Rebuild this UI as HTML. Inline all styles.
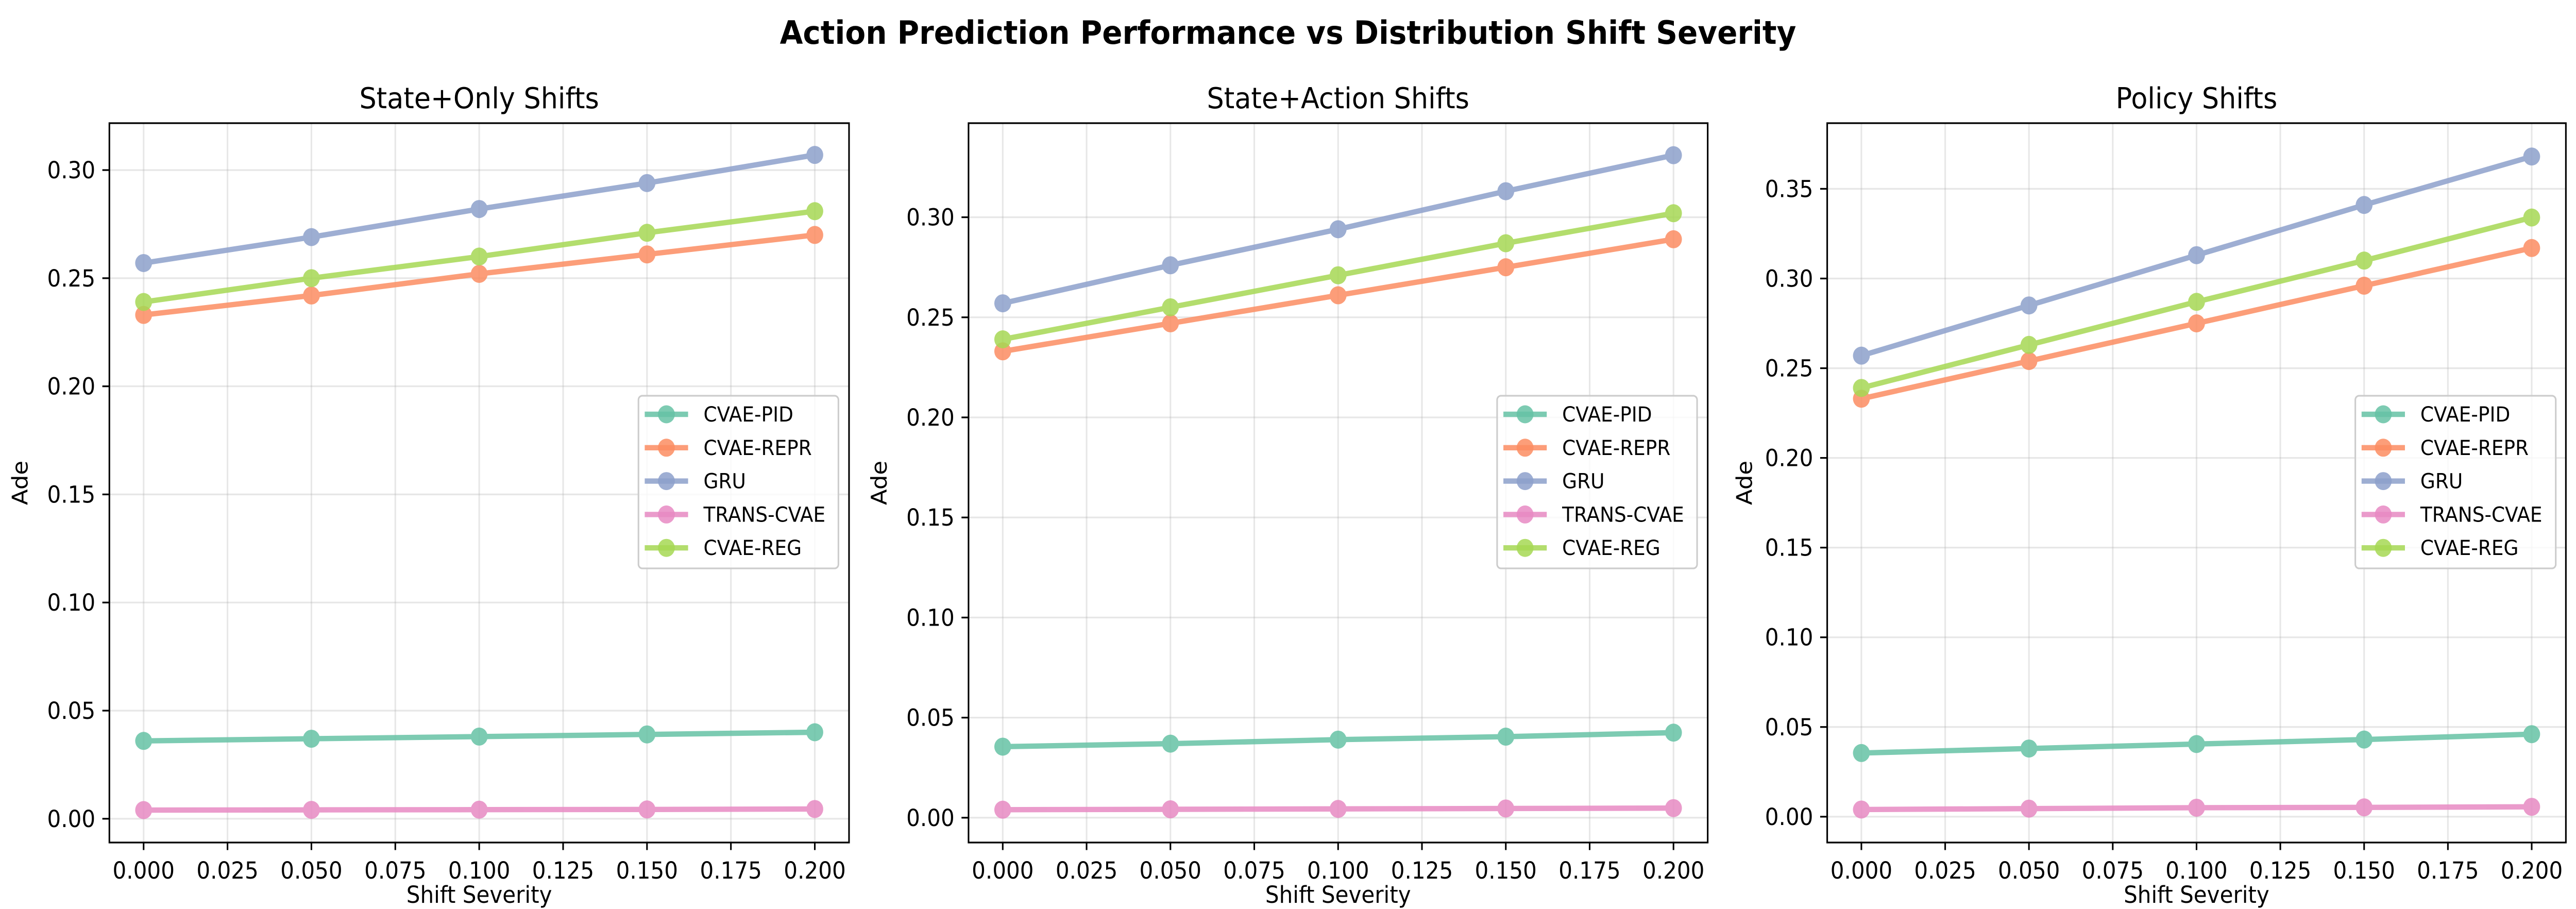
<!DOCTYPE html>
<html><head><meta charset="utf-8">
<meta name="viewport" content="width=5346">
<style>
html,body{margin:0;padding:0;background:#fff;width:100%;height:100%;overflow:hidden;}
svg{display:block;width:100vw;height:100vh;font-family:"DejaVu Sans","Liberation Sans",sans-serif;}
</style></head>
<body>
<svg id="fig" viewBox="0 0 5346 1764" preserveAspectRatio="none" xmlns="http://www.w3.org/2000/svg">
<rect width="5346" height="1764" fill="#fff"/>
<text x="2673" y="85" text-anchor="middle" font-size="62" font-weight="bold">Action Prediction Performance vs Distribution Shift Severity</text>
</svg>
<script>
const xValues = [0, 0.05, 0.1, 0.15, 0.2];
const xTickLabels = ["0.000","0.025","0.050","0.075","0.100","0.125","0.150","0.175","0.200"];
const seriesNames = ["CVAE-PID","CVAE-REPR","GRU","TRANS-CVAE","CVAE-REG"];
const seriesColors = ["#66c2a5","#fc8d62","#8da0cb","#e78ac3","#a6d854"];
const panelTitles = ["State+Only Shifts","State+Action Shifts","Policy Shifts"];
const p1PID = [0.036,0.037,0.038,0.039,0.040];
const p1REPR = [0.233,0.242,0.252,0.261,0.270];
const p1GRU = [0.257,0.269,0.282,0.294,0.307];
const p1TRANS = [0.004,0.0041,0.0042,0.0043,0.0045];
const p1REG = [0.239,0.250,0.260,0.271,0.281];
const p2PID = [0.0355,0.037,0.039,0.0405,0.0425];
const p2REPR = [0.233,0.247,0.261,0.275,0.289];
const p2GRU = [0.257,0.276,0.294,0.313,0.331];
const p2TRANS = [0.004,0.0042,0.0044,0.0046,0.0048];
const p2REG = [0.239,0.255,0.271,0.287,0.302];
const p3PID = [0.0355,0.038,0.0405,0.043,0.046];
const p3REPR = [0.233,0.254,0.275,0.296,0.317];
const p3GRU = [0.257,0.285,0.313,0.341,0.368];
const p3TRANS = [0.004,0.0045,0.005,0.0052,0.0055];
const p3REG = [0.239,0.263,0.287,0.310,0.334];
const p1YTicks = [0,0.05,0.10,0.15,0.20,0.25,0.30];
const p2YTicks = [0,0.05,0.10,0.15,0.20,0.25,0.30];
const p3YTicks = [0,0.05,0.10,0.15,0.20,0.25,0.30,0.35];

const panels = [
 {L:227,R:1762,ymin:-0.011,ymax:0.3217,ticks:p1YTicks,data:[p1PID,p1REPR,p1GRU,p1TRANS,p1REG],legL:1325,legR:1740},
 {L:2010,R:3544,ymin:-0.0124,ymax:0.347,ticks:p2YTicks,data:[p2PID,p2REPR,p2GRU,p2TRANS,p2REG],legL:3107,legR:3522},
 {L:3792,R:5325,ymin:-0.0144,ymax:0.3866,ticks:p3YTicks,data:[p3PID,p3REPR,p3GRU,p3TRANS,p3REG],legL:4888,legR:5304}
];
const T=239,B=1635,NS="http://www.w3.org/2000/svg";
const FT=45, FTITLE=56, FLEG=40;
const svg=document.getElementById('fig');
function mk(tag,attrs,parent,text){const e=document.createElementNS(NS,tag);for(const k in attrs)e.setAttribute(k,attrs[k]);if(text!==undefined)e.textContent=text;parent.appendChild(e);return e;}
panels.forEach((p,pi)=>{
 const g=mk('g',{},svg);
 
 
 const xmin=-0.0102,xmax=0.2102;
 const sx=v=>p.L+(v-xmin)/(xmax-xmin)*(p.R-p.L);
 const sy=v=>B-(v-p.ymin)/(p.ymax-p.ymin)*(B-T);
 xTickLabels.forEach(l=>{const v=parseFloat(l),x=sx(v);
  mk('line',{x1:x,x2:x,y1:T,y2:B,stroke:'#b0b0b0','stroke-opacity':0.3,'stroke-width':3.3},g);
  mk('line',{x1:x,x2:x,y1:B,y2:B+14.6,stroke:'#000','stroke-width':3.3},g);
  const t=mk('text',{x:x,y:1705,'text-anchor':'middle','font-size':FT},g,l);
  
  
 });
 p.ticks.forEach(v=>{const y=sy(v);
  mk('line',{x1:p.L,x2:p.R,y1:y,y2:y,stroke:'#b0b0b0','stroke-opacity':0.3,'stroke-width':3.3},g);
  mk('line',{x1:p.L-14.6,x2:p.L,y1:y,y2:y,stroke:'#000','stroke-width':3.3},g);
  const t=mk('text',{x:p.L-29,y:y+16,'text-anchor':'end','font-size':FT},g,v.toFixed(2));
  
  
 });
 p.data.forEach((arr,si)=>{
  const s=mk('g',{opacity:0.85},g);
  
  
  mk('polyline',{points:arr.map((v,i)=>sx(xValues[i])+','+sy(v)).join(' '),fill:'none',stroke:seriesColors[si],'stroke-width':10.4,'stroke-linejoin':'round','stroke-linecap':'round'},s);
  arr.forEach((v,i)=>{const c=mk('circle',{cx:sx(xValues[i]),cy:sy(v),r:17.5,fill:seriesColors[si]},s);
   
   });
 });
 mk('rect',{x:p.L,y:T,width:p.R-p.L,height:B-T,fill:'none',stroke:'#000','stroke-width':3.3},g);
 const tt=mk('text',{x:(p.L+p.R)/2,y:210,'text-anchor':'middle','font-size':FTITLE},g,panelTitles[pi]);
 
 
 const xl=mk('text',{x:(p.L+p.R)/2,y:1752,'text-anchor':'middle','font-size':FT},g,'Shift Severity');
 
 
 const yx=p.L-170+(pi==2?14:0);
 const yl=mk('text',{x:yx,y:937,'text-anchor':'middle','font-size':FT,transform:`rotate(-90 ${yx} 937)`},g,'Ade');
 
 
 const lg=mk('g',{},g);
 
 
 mk('rect',{x:p.legL,y:768,width:p.legR-p.legL,height:335,rx:8,fill:'#fff','fill-opacity':0.8,stroke:'#ccc','stroke-width':3.3},lg);
 seriesNames.forEach((n,si)=>{const y=804+si*64.8;
  const e=mk('g',{},lg);
  
  
  const lx=p.legL+13;
  mk('line',{x1:lx,x2:lx+90,y1:y,y2:y,stroke:seriesColors[si],'stroke-width':10.4,opacity:0.85},e);
  mk('circle',{cx:lx+45,cy:y,r:17.5,fill:seriesColors[si],opacity:0.85},e);
  mk('text',{x:lx+122,y:y+14,'font-size':FLEG},e,n);
 });
});
</script>
</body></html>
